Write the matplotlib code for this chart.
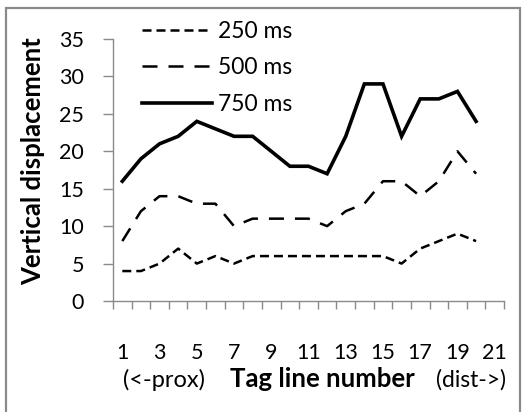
import numpy as np
import matplotlib
matplotlib.use("Agg")
from matplotlib import pyplot as plt
from matplotlib.patches import Rectangle

# data
tag_lines = np.arange(1, 21)
ms250 = [4, 4, 5, 7, 5, 6, 5, 6, 6, 6, 6, 6, 6, 6, 6, 5, 7, 8, 9, 8]
ms500 = [8, 12, 14, 14, 13, 13, 10, 11, 11, 11, 11, 10, 12, 13, 16, 16, 14, 16, 20, 17]
ms750 = [16, 19, 21, 22, 24, 23, 22, 22, 20, 18, 18, 17, 22, 29, 29, 22, 27, 27, 28, 24]
series_labels = ["250 ms", "500 ms", "750 ms"]
x_ticks = np.arange(1, 22, 2)
y_ticks = np.arange(0, 36, 5)

plt.rcParams['font.family'] = ['Lato', 'DejaVu Sans']
W, H = 524, 412
grey = '#8a8a8a'

fig = plt.figure(figsize=(W / 100, H / 100), dpi=100)
ax = fig.add_axes([113 / W, 1 - 301 / H, 391 / W, (301 - 39) / H])

l1, = ax.plot(tag_lines, ms250, color='black', lw=1.8, dashes=(3.6, 2),
              dash_capstyle='butt')
l2, = ax.plot(tag_lines, ms500, color='black', lw=1.8, dashes=(6, 4.4),
              dash_capstyle='butt')
l3, = ax.plot(tag_lines, ms750, color='black', lw=2.6, solid_joinstyle='miter')

ax.set_xlim(0.5, 21.5)
ax.set_ylim(0, 35)
ax.set_xticks(x_ticks)
ax.set_xticks(np.arange(0.5, 22, 1), minor=True)
ax.set_yticks(y_ticks)

for s in ['top', 'right']:
    ax.spines[s].set_visible(False)
for s in ['left', 'bottom']:
    ax.spines[s].set_color(grey)
    ax.spines[s].set_linewidth(1.0)

ax.tick_params(axis='x', which='major', length=0, pad=30, labelsize=15.5)
ax.tick_params(axis='x', which='minor', length=6, width=1, color=grey,
               direction='out')
ax.tick_params(axis='y', length=7.2, width=1, color=grey, pad=13.5,
               labelsize=15.5)

# rotated label: its bottom edge faces right, so x is the right edge
ax.set_ylabel("Vertical displacement", fontsize=18.5, fontweight='bold')
ax.yaxis.set_label_coords(-68 / 391, 0.534)

base_y = 1 - 387 / H
fig.text(322 / W, base_y, "Tag line number", fontsize=18.5,
         fontweight='bold', ha='center', va='baseline')
fig.text(164 / W, base_y, "(<-prox)", fontsize=17, ha='center',
         va='baseline')
fig.text(471 / W, base_y, "(dist->)", fontsize=16.5, ha='center',
         va='baseline')

fig.legend([l1, l2, l3], series_labels, loc='upper left',
           bbox_to_anchor=(142 / W, 1 - 21 / H), frameon=False,
           borderpad=0, borderaxespad=0, fontsize=16.5, handlelength=3.04,
           handletextpad=0.26, labelspacing=0.67)

fig.patches.append(Rectangle((6 / W, -0.1), (520 - 6) / W, 1.1 - 8 / H,
                             transform=fig.transFigure, fill=False,
                             edgecolor=grey, lw=1.6))

fig.savefig("out.png", dpi=100)
